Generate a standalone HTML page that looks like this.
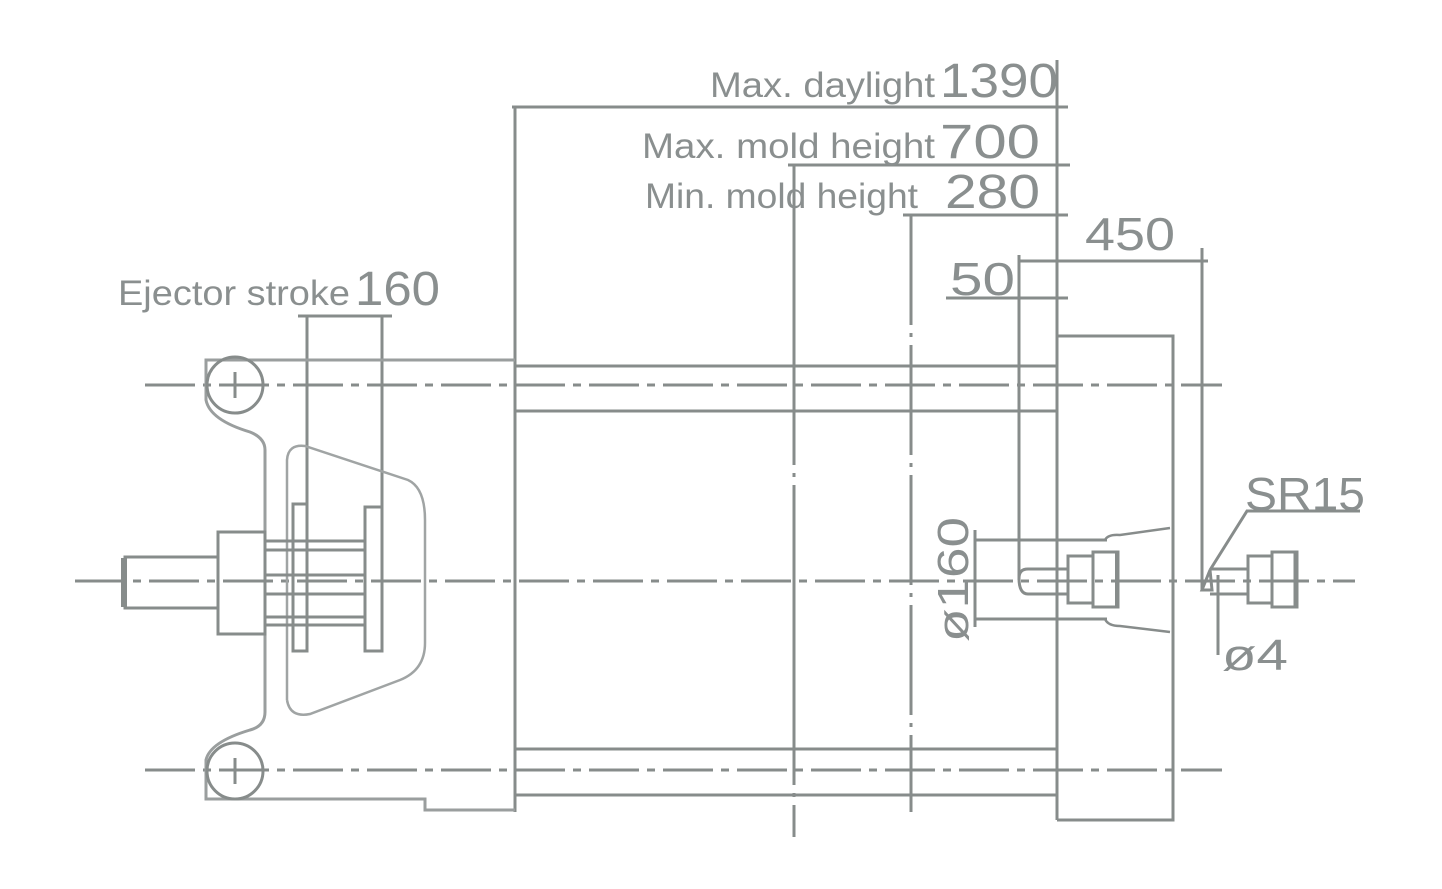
<!DOCTYPE html>
<html><head><meta charset="utf-8"><style>
html,body{margin:0;padding:0;background:#fff;}
svg{display:block;}
text{font-family:"Liberation Sans",sans-serif;fill:#8a8f8f;}
</style></head><body>
<svg width="1442" height="889" viewBox="0 0 1442 889" xmlns="http://www.w3.org/2000/svg">
<g stroke="#878c8b" stroke-width="3" fill="none">
<line x1="512" y1="107" x2="1068" y2="107"/>
<line x1="515" y1="107" x2="515" y2="812"/>
<line x1="788" y1="165" x2="1070" y2="165"/>
<line x1="794" y1="165" x2="794" y2="837" stroke-dasharray="300 8 4 8"/>
<line x1="903" y1="215" x2="1068" y2="215"/>
<line x1="911" y1="215" x2="911" y2="812" stroke-dasharray="110 8 4 8"/>
<line x1="1057" y1="60" x2="1057" y2="820"/>
<line x1="946" y1="298" x2="1068" y2="298"/>
<line x1="1019" y1="261" x2="1208" y2="261"/>
<line x1="1019" y1="255" x2="1019" y2="580"/>
<line x1="1202" y1="248" x2="1202" y2="590"/>
<polyline points="1057,336 1173,336 1173,820 1057,820"/>
<line x1="515" y1="366" x2="1057" y2="366"/>
<line x1="515" y1="411" x2="1057" y2="411"/>
<line x1="515" y1="749" x2="1057" y2="749"/>
<line x1="515" y1="795" x2="1057" y2="795"/>
<line x1="145" y1="385" x2="1222" y2="385" stroke-dasharray="50 8 8 8"/>
<line x1="145" y1="770" x2="1222" y2="770" stroke-dasharray="50 8 8 8"/>
<line x1="75" y1="581" x2="1355" y2="581" stroke-dasharray="50 8 8 8"/>
<line x1="298" y1="316" x2="392" y2="316"/>
<line x1="307" y1="316" x2="307" y2="504"/>
<line x1="382" y1="316" x2="382" y2="507"/>
<path d="M515,360 L206,360 L206,400 Q210,420 250,432 Q265,438 265,450 L265,712 Q265,726 250,730 Q210,742 206,760 L206,799 L425,799 L425,810 L515,810" stroke="#9a9e9e"/>
<circle cx="235" cy="385" r="28"/>
<line x1="235" y1="372" x2="235" y2="398"/>
<circle cx="235" cy="771" r="28"/>
<line x1="235" y1="758" x2="235" y2="784"/>
<path d="M287,700 L287,460 Q288,444 305,446 L408,480 Q425,488 425,520 L425,643 Q425,670 400,680 L310,714 Q290,718 287,700" stroke="#a0a4a4" stroke-width="2.5"/>
<rect x="293" y="504" width="14" height="147"/>
<rect x="365" y="507" width="17" height="144"/>
<rect x="218" y="532" width="47" height="102"/>
<rect x="125" y="557" width="93" height="51"/>
<line x1="124" y1="558" x2="124" y2="607" stroke-width="6"/>
<g>
<line x1="265" y1="541" x2="365" y2="541"/><line x1="265" y1="550" x2="365" y2="550"/>
<line x1="265" y1="575" x2="365" y2="575"/><line x1="265" y1="594" x2="365" y2="594"/>
<line x1="265" y1="617" x2="365" y2="617"/><line x1="265" y1="625" x2="365" y2="625"/>
</g>
<line x1="975" y1="530" x2="975" y2="627"/>
<line x1="975" y1="540" x2="1107" y2="540"/>
<line x1="975" y1="619" x2="1107" y2="619"/>
<path d="M1105,540 Q1108,534 1120,535 L1170,528" stroke-width="2.5"/>
<path d="M1105,619 Q1108,626 1120,626 L1170,632" stroke-width="2.5"/>
<path d="M1019,578 Q1019,569 1028,569 L1068,569 M1019,578 Q1019,594 1028,594 L1068,594"/>
<rect x="1068" y="556" width="25" height="47"/>
<rect x="1093" y="552" width="25" height="55"/>
<line x1="1117" y1="552" x2="1117" y2="607" stroke-width="4"/>
<path d="M1202,590 L1212,590 L1210,570 Z"/>
<line x1="1210" y1="569" x2="1248" y2="569"/>
<line x1="1210" y1="594" x2="1248" y2="594"/>
<rect x="1248" y="556" width="24" height="47"/>
<rect x="1272" y="552" width="25" height="55"/>
<line x1="1296" y1="552" x2="1296" y2="607" stroke-width="5"/>
<polyline points="1360,511 1247,511 1210,570"/>
<line x1="1218" y1="575" x2="1218" y2="655"/>
</g>
<text x="710" y="97" font-size="35" textLength="225" lengthAdjust="spacingAndGlyphs">Max. daylight</text>
<text x="940" y="97" font-size="48" textLength="118" lengthAdjust="spacingAndGlyphs">1390</text>
<text x="642" y="158" font-size="35" textLength="293" lengthAdjust="spacingAndGlyphs">Max. mold height</text>
<text x="940" y="158" font-size="48" textLength="100" lengthAdjust="spacingAndGlyphs">700</text>
<text x="645" y="208" font-size="35" textLength="273" lengthAdjust="spacingAndGlyphs">Min. mold height</text>
<text x="945" y="208" font-size="48" textLength="95" lengthAdjust="spacingAndGlyphs">280</text>
<text x="1085" y="250" font-size="46" textLength="90" lengthAdjust="spacingAndGlyphs">450</text>
<text x="950" y="295" font-size="46" textLength="65" lengthAdjust="spacingAndGlyphs">50</text>
<text x="118" y="305" font-size="35" textLength="232" lengthAdjust="spacingAndGlyphs">Ejector stroke</text>
<text x="355" y="305" font-size="48" textLength="85" lengthAdjust="spacingAndGlyphs">160</text>
<text x="1245" y="510" font-size="46" textLength="120" lengthAdjust="spacingAndGlyphs">SR15</text>
<text x="1222" y="670" font-size="44" textLength="66" lengthAdjust="spacingAndGlyphs">ø4</text>
<text transform="translate(968,642) rotate(-90)" font-size="44" textLength="125" lengthAdjust="spacingAndGlyphs">ø160</text>
</svg>
</body></html>
